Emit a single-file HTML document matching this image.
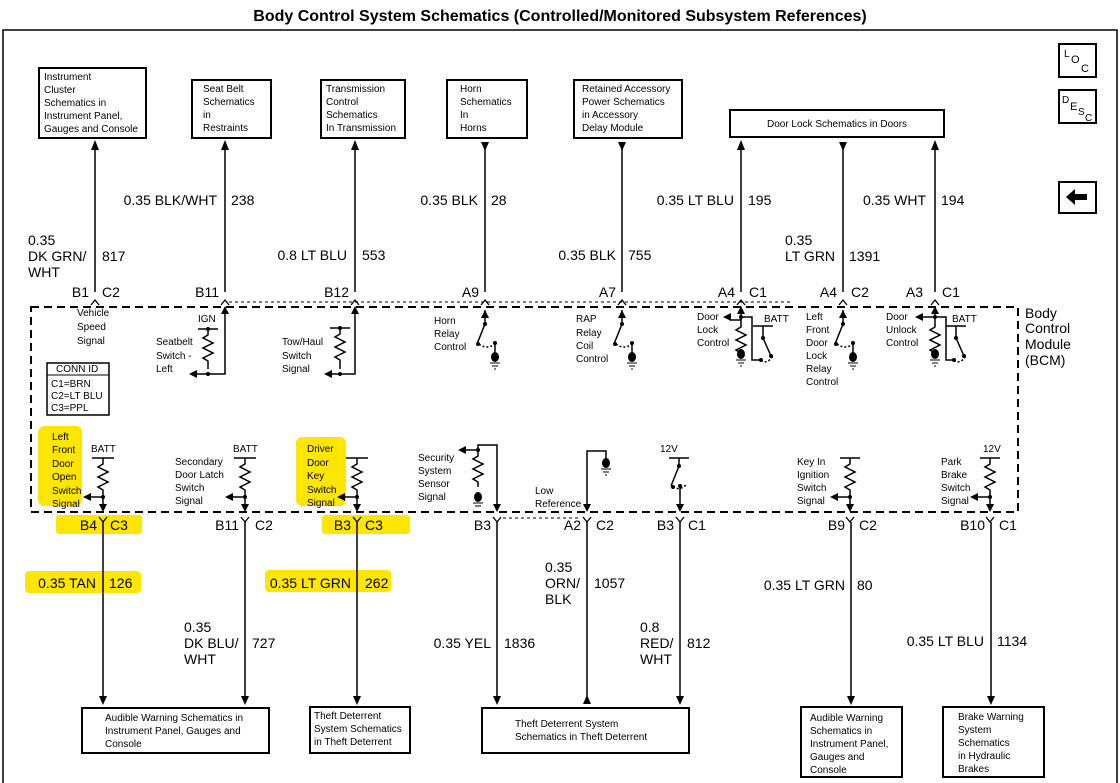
<!DOCTYPE html>
<html><head><meta charset="utf-8"><style>
html,body{margin:0;padding:0;background:#fff;}
svg{display:block;font-family:"Liberation Sans",Arial,sans-serif;}
.w{font-size:14px;}
.s{font-size:10px;}
.b{font-size:10px;}
</style></head><body>
<svg width="1120" height="783" viewBox="0 0 1120 783" xmlns="http://www.w3.org/2000/svg">
<defs>
<marker id="au" viewBox="0 0 10 10" refX="5" refY="0" markerWidth="8" markerHeight="10" orient="auto"><path d="M0,10 L5,0 L10,10 z" fill="#000"/></marker>
</defs>
<!-- highlights -->
<g fill="#ffe600">
<rect x="38" y="426" width="44" height="80" rx="6"/>
<rect x="56" y="515" width="86" height="19" rx="3"/>
<rect x="25" y="571" width="116" height="22" rx="4"/>
<rect x="296" y="437" width="50" height="69" rx="6"/>
<rect x="322" y="515" width="88" height="19" rx="3"/>
<rect x="265" y="570" width="126" height="22" rx="4"/>
</g>
<text x="560" y="21" text-anchor="middle" font-size="16" font-weight="bold">Body Control System Schematics (Controlled/Monitored Subsystem References)</text>
<rect x="3" y="30" width="1114" height="770" fill="none" stroke="#000" stroke-width="1.5"/>
<!-- right icons -->
<g fill="none" stroke="#000" stroke-width="2">
<rect x="1059" y="44" width="37" height="33"/>
<rect x="1059" y="90" width="37" height="33"/>
<rect x="1059" y="182" width="37" height="31"/>
</g>
<text x="1064" y="57" font-size="10">L</text><text x="1071" y="63" font-size="11">O</text><text x="1081" y="72" font-size="11">C</text>
<text x="1062" y="103" font-size="10">D</text><text x="1070" y="110" font-size="11">E</text><text x="1078" y="115" font-size="10">S</text><text x="1085" y="121" font-size="10">C</text>
<path d="M1066,197 l9,-8 v5 h12 v6 h-12 v5 z" fill="#000"/>
<!-- top boxes -->
<g fill="#fff" stroke="#000" stroke-width="2">
<rect x="39" y="68" width="107" height="70"/>
<rect x="192" y="80" width="79" height="58"/>
<rect x="321" y="80" width="84" height="58"/>
<rect x="447" y="80" width="80" height="58"/>
<rect x="574" y="80" width="108" height="58"/>
<rect x="730" y="110" width="214" height="27"/>
</g>
<g class="b">
<text x="44" y="80">Instrument</text><text x="44" y="93">Cluster</text><text x="44" y="106">Schematics in</text><text x="44" y="119">Instrument Panel,</text><text x="44" y="132">Gauges and Console</text>
<text x="203" y="92">Seat Belt</text><text x="203" y="105">Schematics</text><text x="203" y="118">in</text><text x="203" y="131">Restraints</text>
<text x="326" y="92">Transmission</text><text x="326" y="105">Control</text><text x="326" y="118">Schematics</text><text x="326" y="131">In Transmission</text>
<text x="460" y="92">Horn</text><text x="460" y="105">Schematics</text><text x="460" y="118">In</text><text x="460" y="131">Horns</text>
<text x="582" y="92">Retained Accessory</text><text x="582" y="105">Power Schematics</text><text x="582" y="118">in  Accessory</text><text x="582" y="131">Delay  Module</text>
<text x="837" y="127" text-anchor="middle">Door Lock Schematics in Doors</text>
</g>
<!-- top wires -->
<g stroke="#000" stroke-width="1.5" fill="none">
<line x1="95" y1="150" x2="95" y2="292"/>
<line x1="225" y1="150" x2="225" y2="292"/>
<line x1="355" y1="150" x2="355" y2="292"/>
<line x1="485" y1="145" x2="485" y2="292"/>
<line x1="622" y1="145" x2="622" y2="292"/>
<line x1="741" y1="150" x2="741" y2="292"/>
<line x1="843" y1="145" x2="843" y2="292"/>
<line x1="935" y1="150" x2="935" y2="292"/>
</g>
<g fill="#000">
<path d="M91,150 l4,-10 l4,10z"/><path d="M221,150 l4,-10 l4,10z"/><path d="M351,150 l4,-10 l4,10z"/>
<path d="M737,150 l4,-10 l4,10z"/><path d="M931,150 l4,-10 l4,10z"/>
<path d="M481,142 l4,9 l4,-9z"/><path d="M618,142 l4,9 l4,-9z"/><path d="M839,142 l4,9 l4,-9z"/>
</g>
<g class="w">
<text x="217" y="205" text-anchor="end">0.35 BLK/WHT</text><text x="231" y="205">238</text>
<text x="28" y="245">0.35</text><text x="28" y="261">DK GRN/</text><text x="28" y="277">WHT</text><text x="102" y="261">817</text>
<text x="347" y="260" text-anchor="end">0.8 LT BLU</text><text x="362" y="260">553</text>
<text x="478" y="205" text-anchor="end">0.35 BLK</text><text x="491" y="205">28</text>
<text x="616" y="260" text-anchor="end">0.35 BLK</text><text x="628" y="260">755</text>
<text x="734" y="205" text-anchor="end">0.35 LT BLU</text><text x="748" y="205">195</text>
<text x="785" y="245">0.35</text><text x="785" y="261">LT GRN</text><text x="849" y="261">1391</text>
<text x="926" y="205" text-anchor="end">0.35 WHT</text><text x="941" y="205">194</text>
<!-- pin labels top -->
<text x="89" y="297" text-anchor="end">B1</text><text x="102" y="297">C2</text>
<text x="219" y="297" text-anchor="end">B11</text>
<text x="349" y="297" text-anchor="end">B12</text>
<text x="479" y="297" text-anchor="end">A9</text>
<text x="616" y="297" text-anchor="end">A7</text>
<text x="735" y="297" text-anchor="end">A4</text><text x="749" y="297">C1</text>
<text x="837" y="297" text-anchor="end">A4</text><text x="851" y="297">C2</text>
<text x="923" y="297" text-anchor="end">A3</text><text x="942" y="297">C1</text>
</g>
<!-- connector chevrons top -->
<g stroke="#000" stroke-width="1.3" fill="none">
<path d="M91,305 l4,-5 l4,5"/><path d="M221,305 l4,-5 l4,5"/><path d="M351,305 l4,-5 l4,5"/><path d="M481,305 l4,-5 l4,5"/><path d="M618,305 l4,-5 l4,5"/><path d="M737,305 l4,-5 l4,5"/><path d="M839,305 l4,-5 l4,5"/><path d="M931,305 l4,-5 l4,5"/>
<line x1="229" y1="302" x2="790" y2="302" stroke-dasharray="3,3" stroke-width="1"/>
</g>
<!-- BCM dashed box -->
<rect x="31" y="307" width="987" height="205" fill="none" stroke="#000" stroke-width="2" stroke-dasharray="8,5"/>
<g font-size="14"><text x="1025" y="318">Body</text><text x="1025" y="333">Control</text><text x="1025" y="349">Module</text><text x="1025" y="365">(BCM)</text></g>
<!-- CONN ID -->
<rect x="47" y="363" width="62" height="52" fill="none" stroke="#000" stroke-width="1.5"/>
<line x1="47" y1="375" x2="109" y2="375" stroke="#000" stroke-width="1"/>
<g class="s"><text x="56" y="372">CONN ID</text><text x="51" y="387">C1=BRN</text><text x="51" y="399">C2=LT BLU</text><text x="51" y="411">C3=PPL</text></g>
<!-- component labels -->
<g class="s">
<text x="77" y="316">Vehicle</text><text x="77" y="330">Speed</text><text x="77" y="344">Signal</text>
<text x="198" y="322">IGN</text>
<text x="156" y="345">Seatbelt</text><text x="156" y="359">Switch -</text><text x="156" y="372">Left</text>
<text x="282" y="345">Tow/Haul</text><text x="282" y="359">Switch</text><text x="282" y="372">Signal</text>
<text x="434" y="324">Horn</text><text x="434" y="337">Relay</text><text x="434" y="350">Control</text>
<text x="576" y="322">RAP</text><text x="576" y="336">Relay</text><text x="576" y="349">Coil</text><text x="576" y="362">Control</text>
<text x="697" y="320">Door</text><text x="697" y="333">Lock</text><text x="697" y="346">Control</text>
<text x="764" y="322">BATT</text>
<text x="806" y="320">Left</text><text x="806" y="333">Front</text><text x="806" y="346">Door</text><text x="806" y="359">Lock</text><text x="806" y="372">Relay</text><text x="806" y="385">Control</text>
<text x="886" y="320">Door</text><text x="886" y="333">Unlock</text><text x="886" y="346">Control</text>
<text x="952" y="322">BATT</text>
<text x="52" y="440">Left</text><text x="52" y="453">Front</text><text x="52" y="467">Door</text><text x="52" y="480">Open</text><text x="52" y="494">Switch</text><text x="52" y="507">Signal</text>
<text x="91" y="452">BATT</text>
<text x="175" y="465">Secondary</text><text x="175" y="478">Door Latch</text><text x="175" y="491">Switch</text><text x="175" y="504">Signal</text>
<text x="233" y="452">BATT</text>
<text x="307" y="452">Driver</text><text x="307" y="466">Door</text><text x="307" y="479">Key</text><text x="307" y="493">Switch</text><text x="307" y="506">Signal</text>
<text x="418" y="461">Security</text><text x="418" y="474">System</text><text x="418" y="487">Sensor</text><text x="418" y="500">Signal</text>
<text x="535" y="494">Low</text><text x="535" y="507">Reference</text>
<text x="660" y="452">12V</text>
<text x="797" y="465">Key In</text><text x="797" y="478">Ignition</text><text x="797" y="491">Switch</text><text x="797" y="504">Signal</text>
<text x="983" y="452">12V</text>
<text x="941" y="465">Park</text><text x="941" y="478">Brake</text><text x="941" y="491">Switch</text><text x="941" y="504">Signal</text>
</g>
<!-- circuits -->
<g stroke="#000" stroke-width="1.5" fill="none">
<!-- seatbelt -->
<line x1="198" y1="329" x2="218" y2="329"/><path d="M208,329 v6 l-5,3 l10,5 l-10,5 l10,5 l-10,5 l5,3 v8"/>
<path d="M196,374 H225 V310"/>
<!-- tow haul -->
<line x1="330" y1="328" x2="350" y2="328"/><path d="M340,328 v6 l-5,3 l10,5 l-10,5 l10,5 l-10,5 l5,3 v9"/>
<path d="M331,374 H355 V310"/>
<!-- horn -->
<path d="M485,310 v14 l-8,20"/><path d="M479,344 q8,6 16,0" stroke-dasharray="2,2"/><line x1="495" y1="342" x2="495" y2="356"/>
<!-- RAP -->
<path d="M622,310 v14 l-8,20"/><path d="M616,344 q8,6 16,0" stroke-dasharray="2,2"/><line x1="632" y1="342" x2="632" y2="356"/>
<!-- door lock -->
<path d="M741,310 v10 m0,0 H730"/><path d="M741,317 v10 l-5,3 l10,5 l-10,5 l10,5 l-10,5 l5,3 v4"/>
<path d="M741,317 H752 V360 H760"/><line x1="753" y1="326" x2="773" y2="326"/><path d="M763,326 v12 l8,18"/><path d="M761,360 q6,5 12,-4" stroke-dasharray="2,2"/>
<!-- LF door lock relay -->
<path d="M843,310 v14 l-8,20"/><path d="M837,344 q8,6 16,0" stroke-dasharray="2,2"/><line x1="853" y1="342" x2="853" y2="356"/>
<!-- unlock -->
<path d="M935,310 v7 H922"/><path d="M935,317 v10 l-5,3 l10,5 l-10,5 l10,5 l-10,5 l5,3 v4"/>
<path d="M935,317 H946 V360 H953"/><line x1="946" y1="326" x2="966" y2="326"/><path d="M956,326 v12 l8,18"/><path d="M954,360 q6,5 12,-4" stroke-dasharray="2,2"/>
<!-- bottom row -->
<line x1="92" y1="458" x2="114" y2="458"/><path d="M103,458 v6 l-5,3 l10,5 l-10,5 l10,5 l-10,5 l5,3 v10 V510"/><path d="M103,497 H90"/>
<line x1="234" y1="458" x2="256" y2="458"/><path d="M245,458 v6 l-5,3 l10,5 l-10,5 l10,5 l-10,5 l5,3 v10 V510"/><path d="M245,497 H232"/>
<line x1="346" y1="458" x2="368" y2="458"/><path d="M357,458 v6 l-5,3 l10,5 l-10,5 l10,5 l-10,5 l5,3 v10 V510"/><path d="M357,497 H344"/>
<path d="M478,450 H465"/><path d="M478,450 v6 l-5,3 l10,5 l-10,5 l10,5 l-10,5 l5,3 v5"/><path d="M478,450 V445 H497 V510"/>
<path d="M587,510 V451 H606 V460"/>
<line x1="669" y1="458" x2="689" y2="458"/><path d="M679,458 v8 l-8,20"/><path d="M673,487 q6,4 13,-2" stroke-dasharray="2,2"/><line x1="680" y1="486" x2="680" y2="510"/>
<line x1="840" y1="458" x2="860" y2="458"/><path d="M850,458 v6 l-5,3 l10,5 l-10,5 l10,5 l-10,5 l5,3 v10 V510"/><path d="M850,497 H837"/>
<line x1="980" y1="458" x2="1000" y2="458"/><path d="M990,458 v6 l-5,3 l10,5 l-10,5 l10,5 l-10,5 l5,3 v10 V510"/><path d="M990,497 H977"/>
</g>
<g fill="#000">
<!-- arrowheads and dots -->
<path d="M221,314 l4,-8 l4,8z"/><path d="M351,314 l4,-8 l4,8z"/><path d="M481,318 l4,-8 l4,8z"/><path d="M618,318 l4,-8 l4,8z"/><path d="M737,314 l4,-8 l4,8z"/><path d="M839,318 l4,-8 l4,8z"/><path d="M931,314 l4,-8 l4,8z"/>
<path d="M197,370 l-8,4 l8,4z"/><path d="M332,370 l-8,4 l8,4z"/><path d="M731,313 l-8,4 l8,4z"/><path d="M923,313 l-8,4 l8,4z"/>
<path d="M91,493 l-8,4 l8,4z"/><path d="M233,493 l-8,4 l8,4z"/><path d="M345,493 l-8,4 l8,4z"/><path d="M466,446 l-8,4 l8,4z"/><path d="M838,493 l-8,4 l8,4z"/><path d="M978,493 l-8,4 l8,4z"/>
<path d="M99,504 l4,8 l4,-8z"/><path d="M241,504 l4,8 l4,-8z"/><path d="M353,504 l4,8 l4,-8z"/><path d="M493,504 l4,8 l4,-8z"/><path d="M583,504 l4,8 l4,-8z"/><path d="M676,504 l4,8 l4,-8z"/><path d="M846,504 l4,8 l4,-8z"/><path d="M986,504 l4,8 l4,-8z"/>
<circle cx="208" cy="374" r="2"/><circle cx="208" cy="329" r="2"/><circle cx="340" cy="374" r="2"/><circle cx="340" cy="328" r="2"/>
<circle cx="485" cy="324" r="2"/><circle cx="478" cy="344" r="2"/><circle cx="495" cy="343" r="2"/>
<circle cx="622" cy="324" r="2"/><circle cx="615" cy="344" r="2"/><circle cx="632" cy="343" r="2"/>
<circle cx="843" cy="324" r="2"/><circle cx="836" cy="344" r="2"/><circle cx="853" cy="343" r="2"/>
<circle cx="103" cy="497" r="2"/><circle cx="245" cy="497" r="2"/><circle cx="357" cy="497" r="2"/><circle cx="850" cy="497" r="2"/><circle cx="990" cy="497" r="2"/>
<circle cx="478" cy="450" r="2"/><circle cx="679" cy="466" r="2"/><circle cx="673" cy="487" r="2"/><circle cx="680" cy="486" r="2"/>
<circle cx="741" cy="317" r="2"/><circle cx="935" cy="317" r="2"/><circle cx="763" cy="338" r="2"/><circle cx="771" cy="356" r="2"/><circle cx="761" cy="360" r="2"/>
<circle cx="956" cy="338" r="2"/><circle cx="964" cy="356" r="2"/><circle cx="954" cy="360" r="2"/>
<!-- grounds -->
<g id="g"></g>
<ellipse cx="495" cy="357" rx="4" ry="5"/><ellipse cx="632" cy="357" rx="4" ry="5"/><ellipse cx="741" cy="354" rx="4" ry="5"/><ellipse cx="853" cy="357" rx="4" ry="5"/><ellipse cx="935" cy="354" rx="4" ry="5"/><ellipse cx="478" cy="497" rx="4" ry="5"/><ellipse cx="606" cy="463" rx="4" ry="5"/>
</g>
<g stroke="#000" stroke-width="1">
<path d="M490,363 h10 M492,366 h6 M494,369 h2"/><path d="M627,363 h10 M629,366 h6 M631,369 h2"/><path d="M736,360 h10 M738,363 h6 M740,366 h2"/><path d="M848,363 h10 M850,366 h6 M852,369 h2"/><path d="M930,360 h10 M932,363 h6 M934,366 h2"/><path d="M473,503 h10 M475,506 h6"/><path d="M601,469 h10 M603,472 h6 M605,475 h2"/>
</g>
<!-- bottom chevrons -->
<g stroke="#000" stroke-width="1.3" fill="none">
<path d="M99,517 l4,5 l4,-5"/><path d="M241,517 l4,5 l4,-5"/><path d="M353,517 l4,5 l4,-5"/><path d="M493,517 l4,5 l4,-5"/><path d="M583,517 l4,5 l4,-5"/><path d="M676,517 l4,5 l4,-5"/><path d="M846,517 l4,5 l4,-5"/><path d="M986,517 l4,5 l4,-5"/>
<line x1="503" y1="518" x2="580" y2="518" stroke-dasharray="3,3" stroke-width="1"/>
</g>
<!-- bottom wires -->
<g stroke="#000" stroke-width="1.5">
<line x1="103" y1="522" x2="103" y2="698"/><line x1="245" y1="522" x2="245" y2="698"/><line x1="357" y1="522" x2="357" y2="698"/><line x1="497" y1="522" x2="497" y2="698"/><line x1="587" y1="522" x2="587" y2="700"/><line x1="680" y1="522" x2="680" y2="698"/><line x1="851" y1="522" x2="851" y2="698"/><line x1="991" y1="522" x2="991" y2="698"/>
</g>
<g fill="#000">
<path d="M99,696 l4,9 l4,-9z"/><path d="M241,696 l4,9 l4,-9z"/><path d="M353,696 l4,9 l4,-9z"/><path d="M493,696 l4,9 l4,-9z"/><path d="M583,704 l4,-9 l4,9z"/><path d="M676,696 l4,9 l4,-9z"/><path d="M847,696 l4,9 l4,-9z"/><path d="M987,696 l4,9 l4,-9z"/>
</g>
<g class="w">
<text x="97" y="530" text-anchor="end">B4</text><text x="110" y="530">C3</text>
<text x="239" y="530" text-anchor="end">B11</text><text x="255" y="530">C2</text>
<text x="351" y="530" text-anchor="end">B3</text><text x="365" y="530">C3</text>
<text x="491" y="530" text-anchor="end">B3</text>
<text x="581" y="530" text-anchor="end">A2</text><text x="596" y="530">C2</text>
<text x="674" y="530" text-anchor="end">B3</text><text x="688" y="530">C1</text>
<text x="845" y="530" text-anchor="end">B9</text><text x="859" y="530">C2</text>
<text x="985" y="530" text-anchor="end">B10</text><text x="999" y="530">C1</text>
<text x="96" y="588" text-anchor="end">0.35 TAN</text><text x="109" y="588">126</text>
<text x="184" y="632">0.35</text><text x="184" y="648">DK BLU/</text><text x="184" y="664">WHT</text><text x="252" y="648">727</text>
<text x="351" y="588" text-anchor="end">0.35 LT GRN</text><text x="365" y="588">262</text>
<text x="491" y="648" text-anchor="end">0.35 YEL</text><text x="504" y="648">1836</text>
<text x="545" y="572">0.35</text><text x="545" y="588">ORN/</text><text x="545" y="604">BLK</text><text x="594" y="588">1057</text>
<text x="640" y="632">0.8</text><text x="640" y="648">RED/</text><text x="640" y="664">WHT</text><text x="687" y="648">812</text>
<text x="845" y="590" text-anchor="end">0.35 LT GRN</text><text x="857" y="590">80</text>
<text x="984" y="646" text-anchor="end">0.35 LT BLU</text><text x="997" y="646">1134</text>
</g>
<!-- bottom boxes -->
<g fill="#fff" stroke="#000" stroke-width="2">
<rect x="82" y="708" width="187" height="45"/>
<rect x="310" y="707" width="100" height="46"/>
<rect x="482" y="708" width="207" height="45"/>
<rect x="801" y="707" width="101" height="70"/>
<rect x="943" y="707" width="101" height="70"/>
</g>
<g class="b">
<text x="105" y="721">Audible Warning Schematics in</text><text x="105" y="734">Instrument Panel, Gauges and</text><text x="105" y="747">Console</text>
<text x="314" y="719">Theft Deterrent</text><text x="314" y="732">System Schematics</text><text x="314" y="745">in Theft Deterrent</text>
<text x="515" y="727">Theft Deterrent System</text><text x="515" y="740">Schematics in Theft Deterrent</text>
<text x="810" y="721">Audible Warning</text><text x="810" y="734">Schematics in</text><text x="810" y="747">Instrument Panel,</text><text x="810" y="760">Gauges and</text><text x="810" y="773">Console</text>
<text x="958" y="720">Brake Warning</text><text x="958" y="733">System</text><text x="958" y="746">Schematics</text><text x="958" y="759">in Hydraulic</text><text x="958" y="772">Brakes</text>
</g>
</svg>
</body></html>
